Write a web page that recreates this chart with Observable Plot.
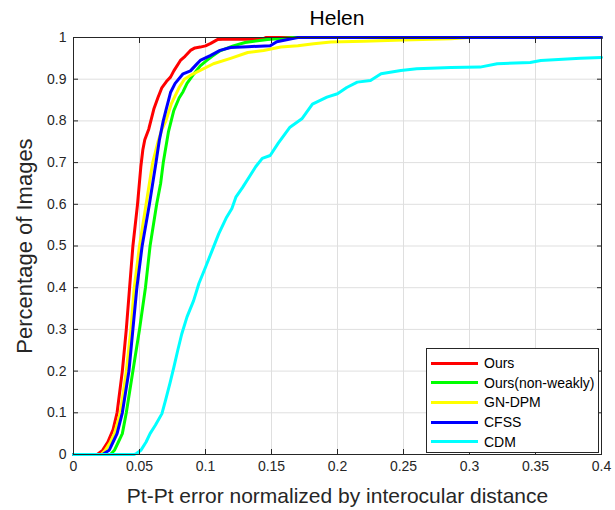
<!DOCTYPE html>
<html>
<head>
<meta charset="utf-8">
<script src="https://cdn.jsdelivr.net/npm/d3@7"></script>
<script src="https://cdn.jsdelivr.net/npm/@observablehq/plot@0.6"></script>
<style>
  body { margin: 0; background: #fff; font-family: "Liberation Sans", Arial, sans-serif; }
  #wrap { position: relative; width: 615px; height: 510px; overflow: hidden; }
  #title { height: 30px; position: relative; }
  #title span { position: absolute; left: 73px; width: 528px; text-align: center; top: 6px; font-size: 21px; line-height: 24px; color: #000; }
  #legend { position: absolute; left: 426px; top: 348px; width: 171px; height: 103px; border: 1px solid #262626; background: #fff; box-sizing: content-box; }
  .row { position: absolute; left: 0; height: 20px; display: flex; align-items: center; }
  .sw { display: inline-block; width: 47px; height: 3px; margin-left: 4px; margin-right: 6px; }
  .lab { font-size: 14px; color: #000; white-space: nowrap; }
  g[aria-label="x-axis label"] text { font-size: 21px; fill: #262626; }
  g[aria-label="y-axis label"] text { font-size: 22px; fill: #262626; }
</style>
</head>
<body>
<div id="wrap">
  <div id="title"><span>Helen</span></div>
  <div id="chart"></div>
  <div id="legend"></div>
</div>
<script>
// ---- data ----
const methods = ["Ours", "Ours(non-weakly)", "GN-DPM", "CFSS", "CDM"];
const colors = ["#ff0000", "#00ff00", "#ffff00", "#0000ff", "#00ffff"];

const xTicks = [0, 0.05, 0.1, 0.15, 0.2, 0.25, 0.3, 0.35, 0.4];
const xTickLabels = ["0", "0.05", "0.1", "0.15", "0.2", "0.25", "0.3", "0.35", "0.4"];
const yTicks = [0, 0.1, 0.2, 0.3, 0.4, 0.5, 0.6, 0.7, 0.8, 0.9, 1];
const yTickLabels = ["0", "0.1", "0.2", "0.3", "0.4", "0.5", "0.6", "0.7", "0.8", "0.9", "1"];

const oursX = [0, 0.018, 0.022, 0.026, 0.030, 0.033, 0.037, 0.040, 0.0425, 0.045, 0.0485, 0.051, 0.0525, 0.054, 0.057, 0.061, 0.064, 0.067, 0.0705, 0.0735, 0.076, 0.081, 0.0845, 0.0886, 0.092, 0.096, 0.100, 0.104, 0.109, 0.113, 0.143, 0.146, 0.4];
const oursY = [0, 0, 0.01, 0.03, 0.06, 0.10, 0.20, 0.30, 0.40, 0.50, 0.60, 0.69, 0.73, 0.755, 0.78, 0.83, 0.856, 0.88, 0.895, 0.905, 0.92, 0.945, 0.955, 0.969, 0.975, 0.977, 0.98, 0.986, 0.995, 0.996, 0.996, 1, 1];

const nonWeaklyX = [0, 0.028, 0.031, 0.034, 0.037, 0.040, 0.045, 0.050, 0.0545, 0.058, 0.063, 0.066, 0.068, 0.072, 0.076, 0.080, 0.083, 0.086, 0.091, 0.096, 0.101, 0.105, 0.111, 0.121, 0.130, 0.147, 0.167, 0.4];
const nonWeaklyY = [0, 0, 0.01, 0.03, 0.05, 0.10, 0.20, 0.30, 0.40, 0.50, 0.60, 0.65, 0.70, 0.775, 0.825, 0.855, 0.87, 0.89, 0.912, 0.932, 0.945, 0.955, 0.968, 0.98, 0.988, 0.995, 1, 1];

const gnDpmX = [0, 0.021, 0.024, 0.028, 0.031, 0.0355, 0.040, 0.0435, 0.046, 0.050, 0.055, 0.060, 0.064, 0.067, 0.070, 0.074, 0.077, 0.080, 0.084, 0.089, 0.096, 0.106, 0.119, 0.132, 0.144, 0.157, 0.170, 0.182, 0.195, 0.220, 0.250, 0.286, 0.300, 0.4];
const gnDpmY = [0, 0, 0.01, 0.03, 0.05, 0.10, 0.20, 0.30, 0.40, 0.50, 0.60, 0.70, 0.75, 0.78, 0.80, 0.84, 0.86, 0.88, 0.90, 0.91, 0.921, 0.937, 0.95, 0.964, 0.969, 0.977, 0.98, 0.985, 0.989, 0.991, 0.994, 0.997, 1, 1];

const cfssX = [0, 0.022, 0.027, 0.030, 0.033, 0.037, 0.042, 0.045, 0.048, 0.052, 0.0575, 0.0625, 0.065, 0.068, 0.070, 0.0735, 0.077, 0.083, 0.0886, 0.093, 0.096, 0.104, 0.111, 0.119, 0.132, 0.149, 0.154, 0.167, 0.170, 0.4];
const cfssY = [0, 0, 0.01, 0.03, 0.05, 0.10, 0.20, 0.30, 0.40, 0.50, 0.60, 0.70, 0.753, 0.80, 0.825, 0.868, 0.89, 0.913, 0.92, 0.935, 0.945, 0.957, 0.969, 0.976, 0.978, 0.98, 0.99, 0.998, 1, 1];

const cdmX = [0, 0.046, 0.048, 0.051, 0.055, 0.058, 0.062, 0.067, 0.0697, 0.073, 0.076, 0.079, 0.082, 0.086, 0.091, 0.095, 0.100, 0.105, 0.110, 0.116, 0.120, 0.123, 0.128, 0.133, 0.138, 0.143, 0.149, 0.155, 0.164, 0.173, 0.181, 0.192, 0.200, 0.207, 0.215, 0.225, 0.233, 0.248, 0.260, 0.286, 0.308, 0.321, 0.346, 0.354, 0.384, 0.4];
const cdmY = [0, 0, 0.003, 0.01, 0.03, 0.05, 0.07, 0.098, 0.13, 0.17, 0.209, 0.25, 0.289, 0.33, 0.369, 0.41, 0.449, 0.489, 0.529, 0.569, 0.59, 0.617, 0.64, 0.665, 0.69, 0.71, 0.717, 0.746, 0.785, 0.805, 0.84, 0.857, 0.865, 0.88, 0.893, 0.897, 0.913, 0.921, 0.925, 0.928, 0.929, 0.937, 0.94, 0.945, 0.95, 0.952];

const seriesX = [oursX, nonWeaklyX, gnDpmX, cfssX, cdmX];
const seriesY = [oursY, nonWeaklyY, gnDpmY, cfssY, cdmY];

// ---- build table ----
const rows = [];
methods.forEach((m, i) => {
  seriesX[i].forEach((x, j) => rows.push({method: m, x, y: seriesY[i][j]}));
});

const axisColor = "#262626";
const chart = Plot.plot({
  width: 615,
  height: 480,
  marginLeft: 73,
  marginRight: 14,
  marginTop: 7,
  marginBottom: 56,
  style: {fontFamily: "'Liberation Sans', Arial, sans-serif", fontSize: "14px", color: axisColor, background: "#fff", overflow: "visible"},
  x: {domain: [0, 0.4]},
  y: {domain: [0, 1]},
  color: {domain: methods, range: colors},
  marks: [
    Plot.gridX(xTicks, {stroke: "#dfdfdf", strokeOpacity: 1}),
    Plot.gridY(yTicks, {stroke: "#dfdfdf", strokeOpacity: 1}),
    Plot.line(rows, {x: "x", y: "y", z: "method", stroke: "method", strokeWidth: 3, strokeLinejoin: "round"}),
    Plot.frame({stroke: axisColor, strokeWidth: 1}),
    Plot.axisX(xTicks, {anchor: "bottom", tickSize: -5, tickPadding: 12,
      tickFormat: d => xTickLabels[xTicks.indexOf(d)],
      label: "Pt-Pt error normalized by interocular distance", labelAnchor: "center", labelArrow: "none", labelOffset: 48}),
    Plot.axisX(xTicks, {anchor: "top", tickSize: -5, fill: "none", label: null}),
    Plot.axisY(yTicks, {anchor: "left", tickSize: -5, tickPadding: 12,
      tickFormat: d => yTickLabels[yTicks.indexOf(d)],
      label: "Percentage of Images", labelAnchor: "center", labelArrow: "none", labelOffset: 57}),
    Plot.axisY(yTicks, {anchor: "right", tickSize: -5, fill: "none", label: null})
  ]
});
document.getElementById("chart").appendChild(chart);

// ---- legend ----
const legend = document.getElementById("legend");
methods.forEach((m, i) => {
  const r = document.createElement("div");
  r.className = "row";
  r.style.top = (4 + i * 19.7) + "px";
  const sw = document.createElement("span");
  sw.className = "sw";
  sw.style.background = colors[i];
  const t = document.createElement("span");
  t.className = "lab";
  t.textContent = m;
  r.appendChild(sw);
  r.appendChild(t);
  legend.appendChild(r);
});
</script>
</body>
</html>
